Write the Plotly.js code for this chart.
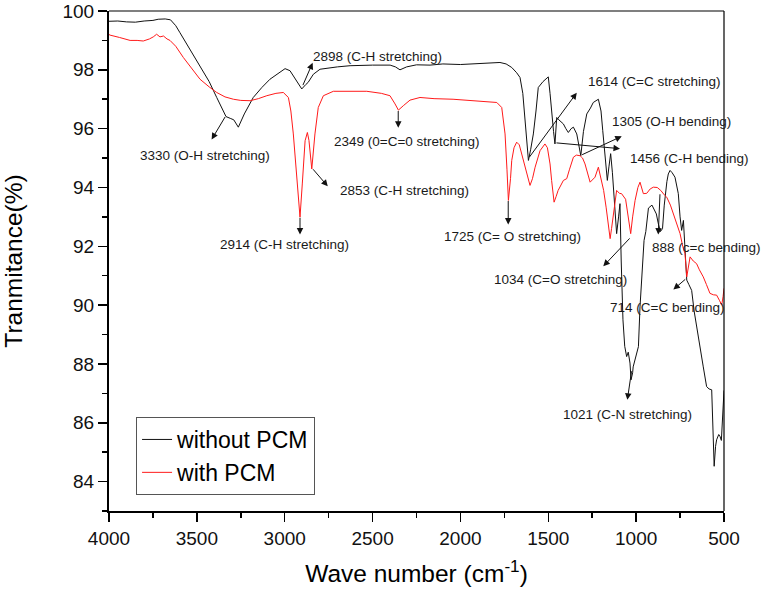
<!DOCTYPE html>
<html>
<head>
<meta charset="utf-8">
<script src="https://cdn.plot.ly/plotly-3.0.1.min.js"></script>
<style>html,body{margin:0;padding:0;background:#fff}</style>
</head>
<body>
<div id="chart" style="width:761px;height:594px"></div>
<script>
// Without PCM (black)
const wnBlack = [4000,3950,3900,3850,3800,3750,3720,3680,3650,3620,3596,3550,3500,3482,3430,3387,3350,3334,3310,3290,3264,3230,3179,3130,3084,3040,2998,2970,2940,2903,2880,2867,2837,2799,2700,2628,2500,2400,2370,2344,2306,2250,2173,2100,2000,1900,1800,1775,1740,1708,1680,1661,1645,1632,1620,1613,1600,1585,1570,1557,1530,1500,1490,1481,1470,1462,1452,1440,1414,1400,1386,1370,1357,1338,1325,1315,1300,1281,1260,1244,1215,1200,1190,1175,1164,1155,1145,1135,1130,1120,1111,1100,1092,1085,1075,1065,1054,1045,1035,1029,1020,1017,1000,987,978,965,955,945,930,910,895,885,875,862,850,840,825,817,807,795,779,760,750,741,731,722,712,700,684,670,656,640,618,599,585,570,561,556,548,542,530,523,515,505,500];
const tBlack = [99.65,99.66,99.63,99.62,99.66,99.68,99.72,99.73,99.70,99.5,99.26,98.8,98.3,98.08,97.6,97.06,96.6,96.41,96.35,96.3,96.05,96.5,97.06,97.4,97.68,97.85,98.04,97.97,97.7,97.35,97.5,97.57,97.85,98.02,98.1,98.14,98.16,98.16,98.1,98.0,98.1,98.17,98.16,98.2,98.18,98.22,98.25,98.25,98.2,98.08,97.9,97.74,97.2,96.38,95.5,94.92,95.3,95.82,96.6,97.4,97.6,97.76,97.2,96.5,95.9,95.48,96.38,96.3,96.16,96.0,95.87,96.0,96.05,95.82,95.4,95.08,95.9,96.5,96.7,96.89,97.0,96.6,95.93,94.8,94.24,94.7,95.15,94.5,94.01,93.2,92.43,93.0,93.45,91.5,89.5,88.6,88.25,88.4,88.03,87.46,87.7,87.9,88.3,88.59,89.94,91.5,92.2,92.5,93.3,93.4,93.2,93.1,92.8,92.5,92.6,93.4,94.2,94.46,94.58,94.5,94.35,93.79,93.0,92.54,92.88,92.0,90.85,90.7,90.5,89.8,89.26,88.6,87.9,87.23,87.15,87.12,85.65,84.52,85.2,85.42,85.6,85.54,85.4,86.89,87.1];

// With PCM (red)
const wnRed = [4000,3994,3940,3880,3840,3805,3770,3748,3729,3710,3690,3670,3653,3620,3577,3530,3482,3430,3387,3340,3292,3250,3197,3150,3102,3050,3008,2979,2965,2951,2935,2923,2913,2900,2884,2871,2862,2846,2828,2809,2780,2723,2600,2533,2450,2401,2372,2353,2325,2287,2230,2150,2042,1900,1793,1765,1746,1735,1727,1715,1708,1695,1680,1665,1650,1632,1604,1590,1575,1547,1519,1505,1490,1481,1467,1455,1444,1414,1395,1380,1357,1340,1319,1305,1291,1262,1250,1234,1215,1200,1185,1171,1160,1148,1140,1130,1111,1095,1083,1060,1045,1031,1020,1006,990,978,959,940,920,902,880,860,840,826,805,788,770,750,735,722,712,700,693,675,656,640,618,600,580,560,542,525,513,505,500];
const tRed = [99.2,99.18,99.1,99.0,99.0,98.98,99.05,99.12,99.21,99.12,99.15,99.05,99.0,98.8,98.42,98.05,97.68,97.42,97.23,97.08,97.0,96.96,96.95,97.02,97.12,97.2,97.23,97.06,96.6,95.82,94.6,93.56,92.99,94.12,95.59,95.87,95.6,94.63,95.82,96.72,97.12,97.27,97.27,97.27,97.2,97.12,96.84,96.63,96.78,96.97,97.06,97.02,97.0,96.95,96.89,96.72,95.82,94.6,93.56,94.3,94.92,95.35,95.54,95.45,95.1,94.69,94.07,94.3,94.69,95.25,95.48,95.35,94.8,94.24,93.5,93.7,93.9,94.24,94.3,94.6,95.03,95.1,95.08,95.0,94.8,94.18,94.25,94.35,94.69,94.3,93.9,93.33,92.8,92.26,92.6,93.1,93.9,93.8,93.79,93.6,93.0,92.43,93.0,93.56,94.0,94.18,93.79,93.8,93.95,94.01,94.0,93.9,93.75,93.67,93.4,93.1,92.8,92.43,92.0,91.75,90.96,91.4,91.64,91.5,91.41,91.2,90.96,90.7,90.4,90.35,90.34,90.15,90.0,90.3,90.57];

const seriesNames = ['without PCM', 'with PCM'];

// Peak labels: text, text anchor (left, middle), arrow tail (on curve), arrow head
const peakLabels = ['2898 (C-H stretching)','3330 (O-H stretching)','2914 (C-H stretching)','2853 (C-H stretching)','2349 (0=C=0 stretching)','1614 (C=C stretching)','1305 (O-H bending)','1456 (C-H bending)','1725 (C= O stretching)','888 (c=c bending)','1034 (C=O stretching)','714 (C=C bending)','1021 (C-N stretching)'];
const labelX = [2850,3835,3380,2697,2731,1285,1149,1046,2105,921,1820,1160,1428];
const labelY = [98.46,95.09,92.06,93.90,95.58,97.61,96.25,94.97,92.33,91.96,90.87,89.91,86.27];
const tailX = [2900,3334,2913,2846,2354,1614,1316,1462,1728,864,1029,712,1025];
const tailY = [97.43,96.45,93.02,94.67,96.65,94.98,95.09,95.52,93.59,93.82,92.32,90.92,87.80];
const headX = [2841,3416,2913,2755,2354,1338,1082,1092,1728,874,1187,788,1050];
const headY = [98.24,95.63,92.40,94.04,96.03,97.22,95.74,95.32,92.74,92.40,91.32,90.53,86.78];

const FONT = 'Liberation Sans, Arial, sans-serif';

const traces = [
  {x: wnBlack, y: tBlack, name: seriesNames[0], type: 'scatter', mode: 'lines',
   line: {color: '#111111', width: 1}},
  {x: wnRed, y: tRed, name: seriesNames[1], type: 'scatter', mode: 'lines',
   line: {color: '#ff1a1a', width: 1}}
];

const annotations = [];
peakLabels.forEach((t, i) => {
  annotations.push({x: labelX[i], y: labelY[i], xref: 'x', yref: 'y', text: t,
    showarrow: false, xanchor: 'left', yanchor: 'middle',
    font: {family: FONT, size: 13.5, color: '#1a1a1a'}});
  annotations.push({x: headX[i], y: headY[i], xref: 'x', yref: 'y',
    ax: tailX[i], ay: tailY[i], axref: 'x', ayref: 'y', text: '',
    showarrow: true, arrowhead: 2, arrowsize: 1.3, arrowwidth: 1, arrowcolor: '#111', standoff: 0});
});

const axisCommon = {
  showgrid: false, zeroline: false, showline: true, linecolor: '#000', linewidth: 2,
  ticks: 'outside', ticklen: 9, tickwidth: 1.5, tickcolor: '#000',
  tickfont: {family: FONT, size: 19, color: '#111'}
};

const layout = {
  width: 761, height: 594,
  margin: {l: 109, r: 37, t: 11, b: 83},
  paper_bgcolor: '#fff', plot_bgcolor: '#fff',
  showlegend: true,
  legend: {x: 0.044, y: 0.188, xanchor: 'left', yanchor: 'top',
    bordercolor: '#555', borderwidth: 1, bgcolor: '#fff',
    font: {family: FONT, size: 23, color: '#000'}, tracegroupgap: 0},
  xaxis: Object.assign({}, axisCommon, {
    range: [4000, 500], dtick: 500, tick0: 0,
    minor: {dtick: 250, ticks: 'outside', ticklen: 5, tickwidth: 1.5, tickcolor: '#000'},
    title: {text: 'Wave number (cm<sup>-1</sup>)', font: {family: FONT, size: 24.5, color: '#000'}, standoff: 17}
  }),
  yaxis: Object.assign({}, axisCommon, {
    range: [83, 100], dtick: 2, tick0: 0,
    minor: {dtick: 1, ticks: 'outside', ticklen: 5, tickwidth: 1.5, tickcolor: '#000'},
    title: {text: 'Tranmitance(%)', font: {family: FONT, size: 24.5, color: '#000'}, standoff: 37}
  }),
  shapes: [
    {type: 'line', xref: 'paper', yref: 'paper', x0: 0, x1: 1, y0: 1, y1: 1, line: {color: '#000', width: 1.2}},
    {type: 'line', xref: 'paper', yref: 'paper', x0: 1, x1: 1, y0: 0, y1: 1, line: {color: '#000', width: 1.2}}
  ],
  annotations: annotations
};

Plotly.newPlot('chart', traces, layout, {displayModeBar: false, staticPlot: true});
</script>
</body>
</html>
